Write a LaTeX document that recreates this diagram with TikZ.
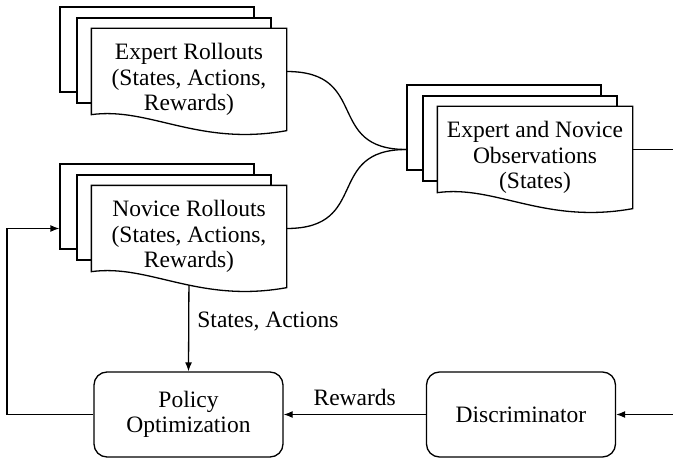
\documentclass[tikz,border=0pt]{standalone}
\usepackage{fontspec}
\setmainfont{Liberation Serif}
\newfontfamily\diagfont{Liberation Serif}
\usetikzlibrary{arrows.meta,backgrounds}

% outline of a document sheet with a wavy bottom edge
\newcommand\docoutline[1]{%
  \draw[fill=white] (#1.north west) -- (#1.north east) -- ([yshift=-16pt]#1.south east)
    .. controls ([xshift=107pt,yshift=-32pt]#1.south west) and ([xshift=58pt,yshift=8pt]#1.south west)
    .. (#1.south west) -- cycle;}

\begin{document}
\begin{tikzpicture}[x=1pt,y=-1pt,
  line width=1.3pt,
  txt/.style={font=\diagfont\fontsize{23.5}{25.5}\selectfont},
  sheet/.style={draw, fill=white, minimum width=194pt, minimum height=85pt, inner sep=0pt},
  frontsheet/.style={minimum width=194pt, minimum height=85pt, inner sep=0pt},
  doctext/.style={txt, align=center, inner sep=0pt},
  procbox/.style={txt, draw, fill=white, rounded corners=13pt, minimum width=189pt,
    minimum height=85pt, align=center, inner sep=0pt},
  lbl/.style={txt, inner sep=0pt},
  wire/.style={line width=1.3pt},
  arr/.style={wire, -{Latex[length=9pt,width=7pt]}},
]
\useasboundingbox (0,0) rectangle (673,460);

% expert rollouts stack
\node[sheet] (exp1) at (157,49.5) {};
\node[sheet] (exp2) at (174,60.5) {};
\node[frontsheet] (exp3) at (189,71.5) {};
\docoutline{exp3}
\node[doctext] (exptxt) at ([yshift=-8pt]exp3.center) {Expert Rollouts\\(States, Actions,\\Rewards)};

% novice rollouts stack
\node[sheet] (nov1) at (157,206.5) {};
\node[sheet] (nov2) at (174,217.5) {};
\node[frontsheet] (nov3) at (189,228.5) {};
\docoutline{nov3}
\node[doctext] (novtxt) at ([yshift=-8pt]nov3.center) {Novice Rollouts\\(States, Actions,\\Rewards)};

% observations stack
\node[sheet] (obs1) at (504,127.5) {};
\node[sheet] (obs2) at (520,138.5) {};
\node[frontsheet] (obs3) at (535,149.5) {};
\docoutline{obs3}
\node[doctext] (obstxt) at ([yshift=-8pt]obs3.center) {Expert and Novice\\Observations\\(States)};

% process boxes
\node[procbox] (pol) at (188.5,414.5) {Policy\\Optimization};
\node[procbox] (disc) at (521,414.5) {Discriminator};

% free ends at the picture border
\coordinate (merge) at (obs3.center -| obs1.west);
\coordinate (edgeR) at (673,149.5);
\coordinate (edgeD) at (673,414.5);
\coordinate (loopL) at (7,300);

\begin{scope}[on background layer]
  \draw[wire] (exp3.east) .. controls +(84,0) and +(-82,0) .. (merge);
  \draw[wire] (nov3.east) .. controls +(84,0) and +(-82,0) .. (merge);
  \draw[wire] (obs3.east) -- (edgeR);
  \draw[arr] (edgeD) -- (disc.east);
  \draw[arr] (disc.west) -- node[lbl, above=8pt] (rw) {Rewards} (pol.east);
  \draw[arr] (nov3.south) -- node[lbl, right=8pt] (sa) {States, Actions} (pol.north);
  \draw[arr] (pol.west) -| (loopL) |- (nov3.center -| nov1.west);
\end{scope}
\end{tikzpicture}
\end{document}
